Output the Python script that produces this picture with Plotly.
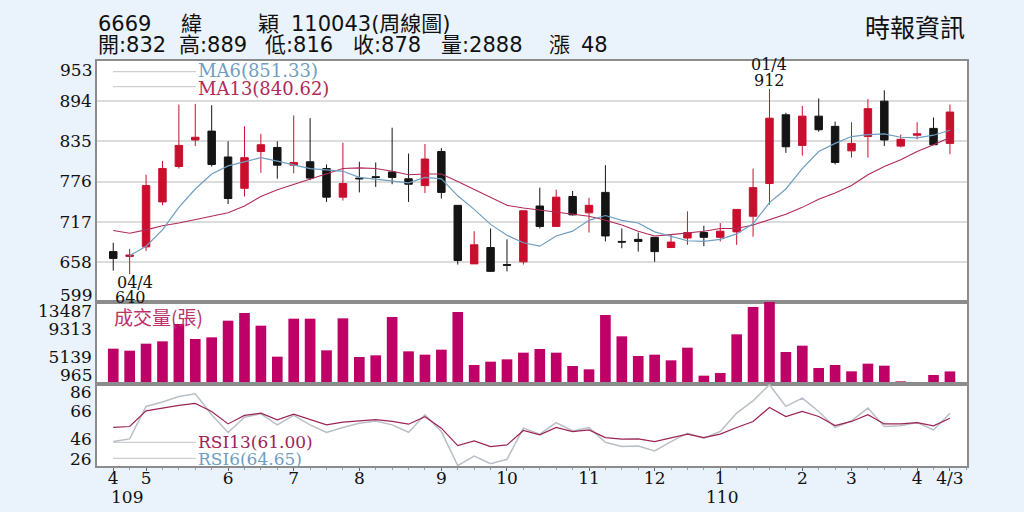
import plotly.graph_objects as go
from plotly.subplots import make_subplots

# ---------------- data (weekly) ----------------
idx = list(range(52))
opens = [673, 666, 680, 746, 798, 837, 850, 812, 766, 820, 826, 800, 805, 795, 753, 781, 783, 790, 780, 770,
         820, 741, 655, 679, 654, 658, 740, 710, 754, 730, 760, 688, 691, 694, 679, 693, 701, 694, 702, 725,
         773, 874, 829, 872, 857, 821, 842, 894, 828, 844, 854, 832]
highs = [686, 677, 786, 806, 889, 890, 888, 835, 857, 846, 835, 873, 869, 801, 833, 805, 804, 855, 817, 831,
         825, 741, 703, 707, 691, 733, 767, 764, 762, 752, 800, 707, 701, 694, 698, 732, 711, 715, 735, 795,
         912, 877, 887, 898, 864, 863, 897, 910, 845, 863, 870, 889]
lows = [645, 640, 674, 741, 795, 828, 798, 743, 754, 789, 780, 788, 778, 746, 748, 760, 768, 772, 746, 759,
        751, 654, 655, 643, 644, 654, 707, 710, 726, 701, 688, 678, 673, 658, 679, 683, 681, 688, 683, 695,
        742, 818, 814, 849, 801, 811, 811, 828, 826, 838, 830, 816]
closes = [663, 668, 770, 795, 829, 841, 801, 751, 811, 830, 800, 804, 781, 753, 773, 780, 782, 782, 772, 809,
          760, 660, 683, 644, 653, 733, 710, 753, 727, 741, 696, 687, 688, 673, 687, 701, 694, 703, 735, 767,
          869, 827, 872, 852, 804, 832, 883, 837, 838, 846, 830, 878]
ma6 = [None, 667, 681, 705, 738, 765, 787, 799, 805, 811, 806, 800, 795, 793, 791, 782, 779, 776, 774, 782,
       780, 755, 735, 713, 697, 686, 681, 696, 703, 719, 726, 719, 715, 702, 695, 689, 688, 691, 699, 714,
       745, 765, 795, 820, 832, 842, 845, 846, 841, 840, 844, 851.33]
ma13 = [704, 700, 705, 711, 715, 720, 726, 730, 740, 754, 764, 772, 780, 787, 795, 796, 795, 791, 786, 787,
        787, 776, 764, 752, 741, 737, 734, 732, 728, 725, 719, 712, 703, 696, 698, 700, 703, 707, 707, 712,
        720, 728, 738, 750, 759, 770, 786, 798, 808, 820, 830, 840.62]
volume = [6361, 6055, 7124, 7480, 10127, 7837, 8091, 10636, 11807, 9873, 5139, 10941, 10941, 6106, 10992,
          5088, 5342, 11196, 5953, 5444, 6208, 11959, 3866, 4375, 4732, 5750, 6310, 5750, 3714, 3205, 11501,
          8244, 5241, 5444, 4579, 6513, 2238, 2645, 8549, 12723, 13487, 5851, 6819, 3408, 3866, 2899, 4070,
          3765, 1372, 965, 2339, 2888]
rsi13 = [54.2, 54.9, 66.4, 68.4, 70.3, 71.8, 65.9, 56.8, 63, 64.7, 59.8, 63.9, 59.8, 56.1, 58.1, 59.3, 60,
         58.6, 56.6, 62, 53.7, 40.9, 44.4, 40.2, 41.4, 52, 48.8, 54.2, 51.2, 52.4, 46.8, 45.6, 45.8, 43.9, 46.8,
         49.3, 46.8, 49.3, 54.2, 58.6, 68.8, 62.2, 65.9, 62.2, 55.6, 58.6, 63.5, 56.8, 56.8, 57.8, 55.4, 61.0]
rsi6 = [43.9, 45.8, 69.6, 72.8, 76.9, 78.9, 63.5, 50.5, 61.7, 64.2, 56.1, 63, 56.1, 50.5, 54.2, 57.3, 59, 56.1,
        50.7, 63.5, 51.2, 26.3, 33.3, 27.7, 30.9, 53.7, 49.3, 57.8, 51.7, 54.2, 43.4, 40.2, 40.7, 37, 43.9, 50,
        46.3, 51.2, 64.7, 73.7, 85.5, 69.6, 75.7, 65.9, 54.2, 59, 68.4, 54.9, 55.4, 57.8, 52.4, 64.65]
month_pos = [0, 2, 7, 11, 15, 20, 24, 29, 33, 37, 42, 45, 49, 51]
month_text = ['4', '5', '6', '7', '8', '9', '10', '11', '12', '1', '2', '3', '4', '4/3']
price_ticks = [894, 835, 776, 717, 658]
vol_ticks = [9313, 5139]
rsi_ticks = [66, 46]
header_words = ['6669', '緯', '穎', '110043(周線圖)']
quote_words = ['開:832', '高:889', '低:816', '收:878', '量:2888', '漲', '48']

# ---------------- styles ----------------
RED = '#c8102e'
BLACK = '#141414'
MAG = '#bf0066'
MA6C = '#6e9ec2'
MA13C = '#b02a5a'
RSI13C = '#9c2456'
RSI6C = '#b9bfc6'
SERIF = 'DejaVu Serif'
SANS = 'DejaVu Sans, Noto Sans CJK TC'
BG = '#eaf2fb'
FRAME = '#8c8c8c'

fig = make_subplots(rows=3, cols=1, shared_xaxes=True, vertical_spacing=0)

fig.add_trace(go.Candlestick(x=idx, open=opens, high=highs, low=lows, close=closes,
                             increasing=dict(line=dict(color=RED, width=1), fillcolor=RED),
                             decreasing=dict(line=dict(color=BLACK, width=1), fillcolor=BLACK),
                             whiskerwidth=0, showlegend=False, hoverinfo='skip'), row=1, col=1)
fig.add_trace(go.Scatter(x=idx, y=ma13, mode='lines', line=dict(color=MA13C, width=1.1),
                         showlegend=False, hoverinfo='skip'), row=1, col=1)
fig.add_trace(go.Scatter(x=idx, y=ma6, mode='lines', line=dict(color=MA6C, width=1.2),
                         showlegend=False, hoverinfo='skip'), row=1, col=1)

fig.add_trace(go.Bar(x=idx, y=volume, marker=dict(color=MAG, line=dict(width=0)),
                     showlegend=False, hoverinfo='skip'), row=2, col=1)

fig.add_trace(go.Scatter(x=idx, y=rsi6, mode='lines', line=dict(color=RSI6C, width=1.5),
                         showlegend=False, hoverinfo='skip'), row=3, col=1)
fig.add_trace(go.Scatter(x=idx, y=rsi13, mode='lines', line=dict(color=RSI13C, width=1.2),
                         showlegend=False, hoverinfo='skip'), row=3, col=1)

# ---------------- layout ----------------
H_TOP, H_BOT = 61, 46
PH = 512 - H_TOP - H_BOT
def py(ypx):
    return (512 - H_BOT - ypx) / PH
L, R = 97, 57
PW = 1024 - L - R
def px(xpx):
    return (xpx - L) / PW

d_rsi = [0, py(384)]
d_vol = [py(384), py(302)]
d_price = [py(302), 1]

xr = [-0.99, 52.04]
common_x = dict(range=xr, showgrid=False, zeroline=False, showline=True, mirror=True,
                linecolor=FRAME, linewidth=1.5, rangeslider=dict(visible=False))
fig.update_layout(
    width=1024, height=512,
    margin=dict(l=L, r=R, t=H_TOP, b=H_BOT),
    paper_bgcolor=BG, plot_bgcolor='white',
    bargap=0.35, boxgap=0.35,
    showlegend=False,
    xaxis=dict(**common_x, showticklabels=False, ticks=''),
    xaxis2=dict(**common_x, showticklabels=False, ticks=''),
    xaxis3=dict(**common_x, tickmode='array', tickvals=month_pos, ticktext=month_text,
                ticks='outside', ticklen=3, tickcolor='#666', ticklabelstandoff=-7,
                minor=dict(tickmode='linear', tick0=0, dtick=1, ticks='outside', ticklen=2, tickcolor='#999'),
                tickfont=dict(family=SERIF, size=17, color='#111')),
    yaxis=dict(domain=d_price, range=[599, 953], tickmode='array', tickvals=price_ticks,
               ticktext=[str(v) for v in price_ticks], showgrid=True, gridcolor='#dcdcdc', gridwidth=1.5,
               zeroline=False, showline=True, mirror=True, linecolor=FRAME, linewidth=1.5, ticks='',
               tickfont=dict(family=SERIF, size=17, color='#111')),
    yaxis2=dict(domain=d_vol, range=[965, 13487], tickmode='array', tickvals=vol_ticks,
                ticktext=[str(v) for v in vol_ticks], showgrid=False, zeroline=False, showline=True,
                mirror=True, linecolor=FRAME, linewidth=1.5, ticks='',
                tickfont=dict(family=SERIF, size=17, color='#111')),
    yaxis3=dict(domain=d_rsi, range=[26, 86], tickmode='array', tickvals=rsi_ticks,
                ticktext=[str(v) for v in rsi_ticks], showgrid=False, zeroline=False, showline=True,
                mirror=True, linecolor=FRAME, linewidth=1.5, ticks='',
                tickfont=dict(family=SERIF, size=17, color='#111')),
)

ann = []
def add_text(text, x, y, xanchor='left', size=17, color='#111', family=SERIF, xref='paper', yref='paper', xshift=0):
    ann.append(dict(text=text, x=x, y=y, xref=xref, yref=yref, xanchor=xanchor, yanchor='middle',
                    showarrow=False, xshift=xshift, borderpad=0,
                    font=dict(family=family, size=size, color=color)))

# end-of-range axis labels (nudged inside panels like the reference)
for txt, ypx in [('953', 69.5), ('599', 294.5), ('13487', 311), ('965', 375), ('86', 392), ('26', 459)]:
    add_text(txt, 0, py(ypx), xanchor='right', xshift=-4)

# legends
add_text('MA6(851.33)', px(197), py(70.5), size=18, color=MA6C)
add_text('MA13(840.62)', px(197), py(89), size=18, color=MA13C)
add_text('RSI13(61.00)', px(197), py(441.5), size=17, color=RSI13C)
add_text('RSI6(64.65)', px(197), py(459), size=17, color=MA6C)
add_text('成交量(張)', px(113), py(316), size=19, color='#c0306a', family='Noto Sans CJK TC')

# high / low marks
add_text('04/4', 1.35, py(282), xanchor='center', xref='x', size=16)
add_text('640', 1.08, py(297.5), xanchor='center', xref='x', size=16)
add_text('01/4', 40, py(65), xanchor='center', xref='x', size=16)
add_text('912', 40, py(80.5), xanchor='center', xref='x', size=16)

# year labels under months
add_text('109', 0.85, py(497), xanchor='center', xref='x', size=17)
add_text('110', 37.1, py(497), xanchor='center', xref='x', size=17)

# header
for w, xp in zip(header_words, [97, 180, 257, 290]):
    add_text(w, px(xp), py(24), size=21, family=SANS)
for w, xp in zip(quote_words, [97, 178, 264, 352, 440, 548, 580]):
    add_text(w, px(xp), py(45.5), size=21, family=SANS)
add_text('時報資訊', px(966), py(26.5), xanchor='right', size=25, family='Noto Sans CJK TC')

fig.update_layout(annotations=ann)

shapes = []
for ypx in [71.7, 86.7, 442.3, 458.3]:
    shapes.append(dict(type='line', xref='paper', yref='paper', x0=px(113), x1=px(196),
                       y0=py(ypx), y1=py(ypx), line=dict(color='#c4c4c4', width=1)))
fig.update_layout(shapes=shapes)

fig.write_html('out.html', config={'displayModeBar': False},
               post_script="document.body.style.margin='0';")
